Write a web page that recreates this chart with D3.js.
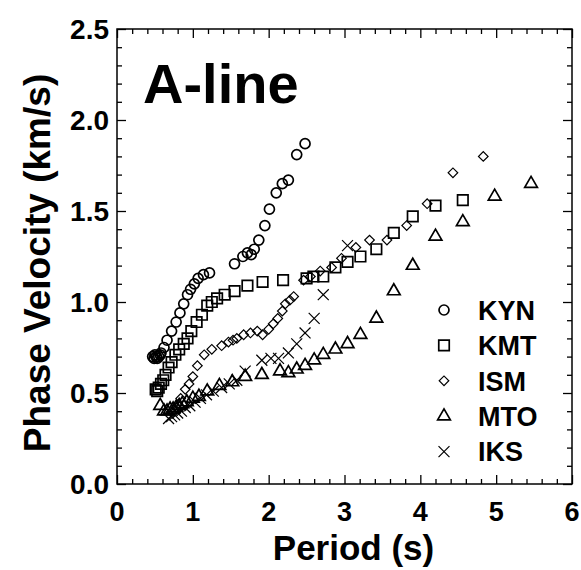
<!DOCTYPE html>
<html>
<head>
<meta charset="utf-8">
<script src="https://cdn.jsdelivr.net/npm/d3@7"></script>
<style>
  html, body { margin: 0; padding: 0; background: #fff; }
  svg { display: block; font-family: "Liberation Sans", Arial, sans-serif; }
</style>
</head>
<body>
<div id="chart"></div>
<script>
// Phase velocity dispersion curves, A-line (period s, velocity km/s)
const KYN = [
  [0.47, 0.70], [0.49, 0.69], [0.50, 0.71], [0.52, 0.70], [0.53, 0.69], [0.55, 0.70],
  [0.57, 0.71], [0.58, 0.72], [0.62, 0.75], [0.66, 0.79], [0.72, 0.84], [0.78, 0.89],
  [0.83, 0.94], [0.88, 0.99], [0.93, 1.04], [0.97, 1.07], [1.02, 1.10], [1.07, 1.13],
  [1.14, 1.15], [1.22, 1.16], [1.55, 1.21], [1.66, 1.25], [1.72, 1.27], [1.77, 1.26],
  [1.81, 1.29], [1.87, 1.34], [1.95, 1.42], [2.01, 1.51], [2.10, 1.60], [2.18, 1.65],
  [2.26, 1.67], [2.37, 1.81], [2.48, 1.87]
];
const KMT = [
  [0.51, 0.52], [0.53, 0.51], [0.55, 0.53], [0.58, 0.55], [0.61, 0.57], [0.64, 0.60],
  [0.68, 0.64], [0.72, 0.67], [0.77, 0.71], [0.82, 0.74], [0.88, 0.77], [0.93, 0.80],
  [0.98, 0.84], [1.05, 0.89], [1.12, 0.93], [1.19, 0.98], [1.25, 1.00], [1.32, 1.02],
  [1.42, 1.04], [1.55, 1.06], [1.72, 1.09], [1.92, 1.11], [2.19, 1.12], [2.50, 1.13],
  [2.59, 1.14], [2.72, 1.14], [2.88, 1.19], [3.04, 1.22], [3.21, 1.25], [3.42, 1.29],
  [3.65, 1.38], [3.90, 1.47], [4.20, 1.53], [4.56, 1.56]
];
const ISM = [
  [0.78, 0.42], [0.84, 0.47], [0.90, 0.52], [0.95, 0.55], [1.00, 0.59], [1.06, 0.65],
  [1.15, 0.71], [1.25, 0.74], [1.38, 0.76], [1.47, 0.78], [1.53, 0.79], [1.58, 0.80],
  [1.67, 0.82], [1.76, 0.83], [1.85, 0.84], [1.92, 0.82], [2.00, 0.85], [2.06, 0.88],
  [2.12, 0.91], [2.18, 0.95], [2.22, 0.99], [2.28, 1.01], [2.33, 1.03], [2.46, 1.12],
  [2.55, 1.14], [2.68, 1.17], [2.83, 1.19], [2.96, 1.24], [3.15, 1.30], [3.33, 1.34],
  [3.56, 1.34], [3.82, 1.42], [4.09, 1.54], [4.43, 1.71], [4.83, 1.80]
];
const MTO = [
  [0.57, 0.43], [0.62, 0.40], [0.66, 0.40], [0.70, 0.41], [0.74, 0.41], [0.78, 0.42],
  [0.82, 0.43], [0.86, 0.44], [0.92, 0.45], [1.00, 0.47], [1.08, 0.48], [1.19, 0.51],
  [1.35, 0.54], [1.52, 0.56], [1.69, 0.59], [1.91, 0.60], [2.15, 0.62], [2.26, 0.61],
  [2.37, 0.63], [2.48, 0.65], [2.60, 0.68], [2.72, 0.71], [2.88, 0.74], [3.04, 0.77],
  [3.21, 0.82], [3.42, 0.91], [3.65, 1.06], [3.90, 1.20], [4.20, 1.36], [4.56, 1.44],
  [4.98, 1.58], [5.46, 1.65]
];
const IKS = [
  [0.68, 0.36], [0.72, 0.37], [0.76, 0.38], [0.80, 0.39], [0.85, 0.40], [0.90, 0.42],
  [0.96, 0.43], [1.03, 0.45], [1.10, 0.47], [1.18, 0.49], [1.27, 0.51], [1.38, 0.53],
  [1.48, 0.55], [1.58, 0.57], [1.69, 0.62], [1.91, 0.68], [2.03, 0.69], [2.13, 0.69],
  [2.26, 0.72], [2.37, 0.77], [2.48, 0.83], [2.60, 0.91], [2.72, 1.04], [3.04, 1.31]
];

const seriesNames = ["KYN", "KMT", "ISM", "MTO", "IKS"];
const seriesData = { KYN, KMT, ISM, MTO, IKS };
const xTicks = [0, 1, 2, 3, 4, 5, 6];
const yTicks = [0, 0.5, 1.0, 1.5, 2.0, 2.5];

const W = 581, H = 570;
const svg = d3.select("#chart").append("svg").attr("width", W).attr("height", H);

const x = d3.scaleLinear().domain([0, 6]).range([117, 572]);
const y = d3.scaleLinear().domain([0, 2.5]).range([484, 29]);

const xMinor = d3.range(0, 6.001, 0.2).filter(v => Math.abs(v - Math.round(v)) > 1e-6);
const yMinor = d3.range(0, 2.501, 0.1).filter(v => Math.abs(v * 2 - Math.round(v * 2)) > 1e-6);

function styleAxis(g) {
  g.select(".domain").remove();
  g.selectAll(".tick line").attr("stroke", "#000").attr("stroke-width", 1.3);
}

// minor + major ticks, pointing inward on all four sides
const sides = [
  { gen: d3.axisBottom, scale: x, t: `translate(0,${y(0)})`, minor: xMinor, major: xTicks },
  { gen: d3.axisTop, scale: x, t: `translate(0,${y(2.5)})`, minor: xMinor, major: xTicks },
  { gen: d3.axisLeft, scale: y, t: `translate(${x(0)},0)`, minor: yMinor, major: yTicks },
  { gen: d3.axisRight, scale: y, t: `translate(${x(6)},0)`, minor: yMinor, major: yTicks }
];
sides.forEach(s => {
  svg.append("g").attr("transform", s.t)
    .call(s.gen(s.scale).tickValues(s.minor).tickSize(-5).tickFormat(""))
    .call(styleAxis);
  svg.append("g").attr("transform", s.t)
    .call(s.gen(s.scale).tickValues(s.major).tickSize(-9).tickFormat(""))
    .call(styleAxis);
});

// tick labels
svg.append("g").selectAll("text").data(xTicks).join("text")
  .attr("x", d => x(d)).attr("y", 521)
  .attr("text-anchor", "middle")
  .attr("font-size", 27).attr("font-weight", "bold")
  .text(d => d3.format("d")(d));
svg.append("g").selectAll("text").data(yTicks).join("text")
  .attr("x", 109).attr("y", d => y(d)).attr("dy", "0.36em")
  .attr("text-anchor", "end")
  .attr("font-size", 28).attr("font-weight", "bold")
  .text(d => d3.format(".1f")(d));

// frame
svg.append("rect")
  .attr("x", x(0)).attr("y", y(2.5))
  .attr("width", x(6) - x(0)).attr("height", y(0) - y(2.5))
  .attr("fill", "none").attr("stroke", "#000").attr("stroke-width", 1.5);

// axis titles
svg.append("text")
  .attr("x", (x(0) + x(6)) / 2 + 9).attr("y", 560)
  .attr("text-anchor", "middle")
  .attr("font-size", 35).attr("font-weight", "bold")
  .text("Period (s)");
svg.append("text")
  .attr("transform", `translate(50,${263}) rotate(-90)`)
  .attr("text-anchor", "middle")
  .attr("font-size", 37).attr("font-weight", "bold")
  .text("Phase Velocity (km/s)");

svg.append("text")
  .attr("x", 143).attr("y", 103)
  .attr("font-size", 56).attr("font-weight", "bold")
  .text("A-line");

// marker shapes (diamond = square turned 45°)
const shapes = {
  KYN: { type: d3.symbolCircle, size: 78, sw: 1.7, rot: 0 },
  KMT: { type: d3.symbolSquare, size: 110, sw: 1.7, rot: 0 },
  ISM: { type: d3.symbolSquare, size: 46, sw: 1.2, rot: 45 },
  MTO: { type: d3.symbolTriangle, size: 70, sw: 1.7, rot: 0 },
  IKS: { type: d3.symbolTimes, size: 80, sw: 1.2, rot: 0 }
};

function drawMarker(sel, name, px, py) {
  const s = shapes[name];
  sel.attr("d", d3.symbol().type(s.type).size(s.size)())
    .attr("fill", "none").attr("stroke", "#000").attr("stroke-width", s.sw);
}

const plot = svg.append("g");
seriesNames.forEach(name => {
  plot.append("g").selectAll("path").data(seriesData[name]).join("path")
    .attr("transform", d => `translate(${x(d[0])},${y(d[1])}) rotate(${shapes[name].rot})`)
    .call(drawMarker, name);
});

// legend
const legend = svg.append("g");
seriesNames.forEach((name, i) => {
  const ly = 310 + i * 35.4;
  legend.append("path")
    .attr("transform", `translate(444,${ly}) rotate(${shapes[name].rot})`)
    .call(drawMarker, name);
  legend.append("text")
    .attr("x", 478).attr("y", ly).attr("dy", "0.36em")
    .attr("font-size", 27).attr("font-weight", "bold")
    .text(name);
});
</script>
</body>
</html>
